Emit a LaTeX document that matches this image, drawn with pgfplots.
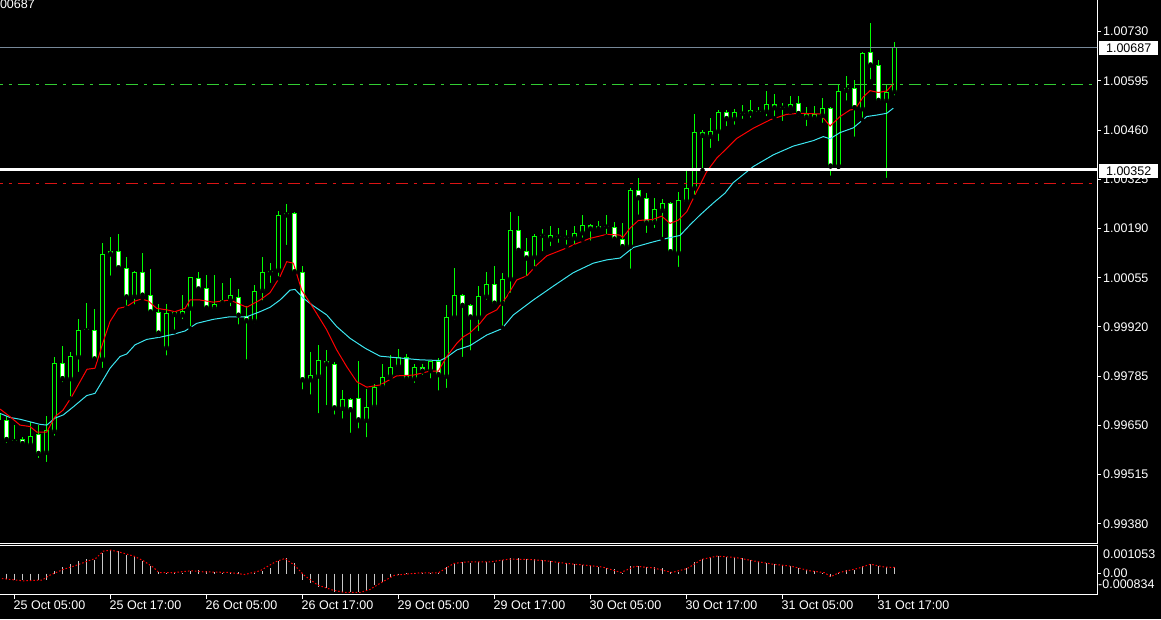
\documentclass[border=0pt]{standalone}
\usepackage{fontspec}
\setmainfont{Liberation Sans}
\usepackage{pgfplots}
\usepackage{pgfplotstable}
\pgfplotsset{compat=1.18}

\definecolor{cgreen}{RGB}{0,255,0}
\definecolor{maRed}{RGB}{255,0,0}
\definecolor{maCyan}{RGB}{60,230,240}
\definecolor{askGray}{RGB}{119,136,153}
\definecolor{lvlGreen}{RGB}{50,205,50}
\definecolor{lvlRed}{RGB}{220,20,20}
\definecolor{histGray}{RGB}{200,200,200}

% hourly candles, index 1 = 25 Oct 05:00
\pgfplotstableread{
i o h l c
-1 0.99665 0.99692 0.99657 0.99681
0 0.99665 0.99676 0.99596 0.99610
1 0.99608 0.99651 0.99596 0.99607
2 0.99613 0.99618 0.99596 0.99599
3 0.99596 0.99660 0.99594 0.99622
4 0.99627 0.99651 0.99555 0.99572
5 0.99575 0.99677 0.99544 0.99638
6 0.99633 0.99837 0.99616 0.99820
7 0.99820 0.99868 0.99763 0.99777
8 0.99777 0.99851 0.99724 0.99840
9 0.99837 0.99942 0.99791 0.99911
10 0.99911 0.99985 0.99907 0.99912
11 0.99911 0.99969 0.99829 0.99831
12 0.99831 1.00149 0.99802 1.00119
13 1.00119 1.00168 1.00055 1.00128
14 1.00128 1.00174 1.00079 1.00081
15 1.00081 1.00111 0.99973 1.00001
16 1.00003 1.00074 0.99976 1.00070
17 1.00070 1.00122 0.99999 1.00006
18 1.00007 1.00079 0.99958 0.99960
19 0.99960 0.99983 0.99898 0.99902
20 0.99862 0.99982 0.99836 0.99958
21 0.99960 0.99965 0.99907 0.99953
22 0.99952 1.00008 0.99936 0.99965
23 0.99971 1.00057 0.99916 1.00056
24 1.00053 1.00071 1.00016 1.00023
25 1.00026 1.00063 0.99967 0.99971
26 0.99970 1.00063 0.99962 0.99983
27 0.99985 1.00040 0.99976 0.99994
28 0.99992 1.00053 0.99971 1.00007
29 1.00003 1.00023 0.99921 0.99951
30 0.99950 0.99978 0.99825 0.99936
31 0.99936 1.00035 0.99925 1.00018
32 1.00019 1.00111 0.99987 1.00070
33 1.00067 1.00095 1.00035 1.00074
34 1.00075 1.00238 1.00053 1.00227
35 1.00226 1.00257 1.00139 1.00232
36 1.00232 1.00234 1.00067 1.00070
37 1.00070 1.00087 0.99743 0.99774
38 0.99774 0.99851 0.99729 0.99788
39 0.99784 0.99870 0.99678 0.99829
40 0.99826 0.99857 0.99700 0.99818
41 0.99818 0.99823 0.99674 0.99697
42 0.99696 0.99747 0.99663 0.99723
43 0.99723 0.99725 0.99624 0.99692
44 0.99724 0.99826 0.99636 0.99664
45 0.99663 0.99750 0.99612 0.99701
46 0.99701 0.99764 0.99695 0.99755
47 0.99755 0.99818 0.99752 0.99782
48 0.99784 0.99842 0.99780 0.99811
49 0.99811 0.99860 0.99802 0.99839
50 0.99839 0.99845 0.99770 0.99777
51 0.99777 0.99818 0.99761 0.99811
52 0.99811 0.99818 0.99783 0.99798
53 0.99799 0.99828 0.99773 0.99827
54 0.99828 0.99836 0.99740 0.99788
55 0.99784 0.99980 0.99747 0.99946
56 0.99946 1.00083 0.99934 1.00008
57 1.00008 1.00010 0.99832 0.99978
58 0.99979 0.99983 0.99850 0.99946
59 0.99946 1.00031 0.99903 1.00005
60 1.00003 1.00070 0.99989 1.00037
61 1.00037 1.00087 0.99980 0.99984
62 0.99984 1.00067 0.99918 1.00051
63 1.00051 1.00236 1.00008 1.00186
64 1.00186 1.00225 1.00125 1.00129
65 1.00129 1.00163 1.00053 1.00108
66 1.00111 1.00175 1.00081 1.00169
67 1.00170 1.00189 1.00122 1.00171
68 1.00160 1.00197 1.00136 1.00171
69 1.00168 1.00192 1.00145 1.00169
70 1.00165 1.00186 1.00140 1.00166
71 1.00163 1.00197 1.00140 1.00177
72 1.00177 1.00227 1.00159 1.00199
73 1.00199 1.00202 1.00151 1.00188
74 1.00188 1.00211 1.00180 1.00197
75 1.00195 1.00227 1.00168 1.00196
76 1.00193 1.00209 1.00158 1.00160
77 1.00160 1.00204 1.00137 1.00139
78 1.00140 1.00300 1.00074 1.00296
79 1.00296 1.00329 1.00222 1.00273
80 1.00273 1.00287 1.00172 1.00204
81 1.00206 1.00275 1.00186 1.00243
82 1.00239 1.00271 1.00161 1.00259
83 1.00261 1.00263 1.00116 1.00125
84 1.00122 1.00291 1.00079 1.00268
85 1.00264 1.00355 1.00259 1.00300
86 1.00300 1.00504 1.00277 1.00454
87 1.00454 1.00460 1.00350 1.00444
88 1.00442 1.00492 1.00405 1.00457
89 1.00456 1.00515 1.00424 1.00509
90 1.00509 1.00515 1.00465 1.00490
91 1.00490 1.00517 1.00469 1.00509
92 1.00505 1.00529 1.00485 1.00506
93 1.00505 1.00542 1.00488 1.00514
94 1.00509 1.00522 1.00499 1.00513
95 1.00510 1.00567 1.00492 1.00531
96 1.00531 1.00559 1.00492 1.00520
97 1.00521 1.00533 1.00479 1.00522
98 1.00520 1.00552 1.00510 1.00531
99 1.00533 1.00552 1.00492 1.00504
100 1.00503 1.00523 1.00465 1.00494
101 1.00492 1.00527 1.00481 1.00503
102 1.00499 1.00549 1.00474 1.00521
103 1.00521 1.00522 1.00329 1.00360
104 1.00360 1.00585 1.00359 1.00568
105 1.00568 1.00608 1.00535 1.00574
106 1.00574 1.00597 1.00436 1.00520
107 1.00517 1.00675 1.00488 1.00670
108 1.00673 1.00753 1.00593 1.00637
109 1.00637 1.00652 1.00533 1.00540
110 1.00540 1.00584 1.00323 1.00565
111 1.00564 1.00702 1.00549 1.00687
}\candles

% oscillator histogram
\pgfplotstableread{
i m
-1 -0.00022
0 -0.00022
1 -0.00024
2 -0.00025
3 -0.00026
4 -0.00026
5 -0.00024
6 0.00011
7 0.00024
8 0.00037
9 0.00050
10 0.00057
11 0.00053
12 0.00082
13 0.00093
14 0.00090
15 0.00073
16 0.00069
17 0.00050
18 0.00029
19 0.00007
20 0.00003
21 0.00003
22 0.00004
23 0.00011
24 0.00013
25 0.00011
26 0.00007
27 0.00004
28 0.00004
29 0.00005
30 0.00000
31 0.00003
32 0.00011
33 0.00020
34 0.00050
35 0.00060
36 0.00040
37 -0.00024
38 -0.00037
39 -0.00053
40 -0.00057
41 -0.00073
42 -0.00075
43 -0.00075
44 -0.00075
45 -0.00064
46 -0.00046
47 -0.00033
48 -0.00013
49 -0.00003
50 0.00001
51 0.00002
52 0.00001
53 0.00002
54 0.00002
55 0.00024
56 0.00042
57 0.00046
58 0.00042
59 0.00046
60 0.00046
61 0.00040
62 0.00053
63 0.00060
64 0.00060
65 0.00056
66 0.00056
67 0.00053
68 0.00050
69 0.00042
70 0.00040
71 0.00037
72 0.00033
73 0.00030
74 0.00024
75 0.00020
76 0.00016
77 0.00004
78 0.00029
79 0.00029
80 0.00024
81 0.00024
82 0.00020
83 0.00007
84 0.00007
85 0.00020
86 0.00046
87 0.00056
88 0.00064
89 0.00069
90 0.00066
91 0.00064
92 0.00060
93 0.00053
94 0.00046
95 0.00040
96 0.00037
97 0.00033
98 0.00029
99 0.00020
100 0.00013
101 0.00011
102 0.00004
103 -0.00013
104 0.00004
105 0.00013
106 0.00013
107 0.00029
108 0.00037
109 0.00029
110 0.00024
111 0.00026
}\macd

\begin{document}
\begin{tikzpicture}
\fill[black] (0,0) rectangle (1161pt,619pt);
\useasboundingbox (0,0) rectangle (1161pt,619pt);

\pgfplotsset{
  mtaxis/.style={
    scale only axis,
    anchor=south west,
    width=1098pt,
    xmin=-0.9375, xmax=136.3125,
    axis line style={white, line width=1pt},
    tick style={white, line width=1pt},
    tick align=outside,
    major tick length=4pt,
    scaled y ticks=false,
    scaled x ticks=false,
    ytick pos=right,
    yticklabel pos=right,
    ticklabel style={text=white, font=\fontsize{12.5}{14}\selectfont},
    /pgf/number format/assume math mode=true,
  },
  candle/.style={only marks, mark=none, forget plot,
    error bars/.cd, y dir=plus, y explicit, error mark=none},
}

\begin{axis}[mtaxis,
  at={(-1pt,76pt)},
  height=544pt,
  ymin=0.993277, ymax=1.008193,
  xtick=\empty,
  ytick={0.99380,0.99515,0.99650,0.99785,0.99920,1.00055,1.00190,1.00325,1.00460,1.00595,1.00730},
  yticklabels={0.99380,0.99515,0.99650,0.99785,0.99920,1.00055,1.00190,1.00325,1.00460,1.00595,1.00730},
  yticklabel style={anchor=west, inner sep=0pt, xshift=2pt},
]
% wicks: low to high
\addplot[candle, error bar style={draw=cgreen, line width=1pt}]
  table[x=i, y=l, y error plus expr={\thisrow{h}-\thisrow{l}}] {\candles};
% bodies: green outline, at least one pixel tall
\addplot[candle, error bar style={draw=cgreen, line width=5pt}]
  table[x=i, y expr={min(\thisrow{o},\thisrow{c})},
        y error plus expr={max(abs(\thisrow{o}-\thisrow{c}),0.0000274)}] {\candles};
% bearish bodies white (rows that do not apply are moved off the axis)
\addplot[candle, error bar style={draw=white, line width=3pt}]
  table[x expr={ifthenelse(\thisrow{o}-\thisrow{c}>0.00005,\thisrow{i},-100)},
        y expr={\thisrow{c}+0.0000274},
        y error plus expr={abs(\thisrow{o}-\thisrow{c})-0.0000548}] {\candles};
% bullish bodies hollow
\addplot[candle, error bar style={draw=black, line width=3pt}]
  table[x expr={ifthenelse(\thisrow{c}-\thisrow{o}>0.00005,\thisrow{i},-100)},
        y expr={\thisrow{o}+0.0000274},
        y error plus expr={abs(\thisrow{o}-\thisrow{c})-0.0000548}] {\candles};

% slow average
\addplot[maCyan, line width=1pt, mark=none] coordinates {
(-0.81,0.99683) (0.44,0.99672) (1.69,0.99667) (2.94,0.99660) (4.19,0.99653)
(5.03,0.99651) (6.06,0.99670) (7.1,0.99679) (8.35,0.99701) (10.03,0.99732)
(11.06,0.99738) (11.69,0.99761) (12.94,0.99807) (14.19,0.99839) (15.03,0.99846)
(16.06,0.99871) (17.53,0.99886) (19.19,0.99892) (20.85,0.99900) (22.31,0.99909)
(23.78,0.99930) (25.85,0.99941) (27.94,0.99948) (30.03,0.99948) (31.69,0.99962)
(32.94,0.99974) (34.19,0.99994) (35.44,1.00021) (36.06,1.00023) (37.1,0.99999)
(38.35,0.99978) (40.03,0.99953) (41.28,0.99921) (42.94,0.99889) (44.81,0.99862)
(46.69,0.99840) (49.6,0.99834) (51.69,0.99830) (54.19,0.99828) (55.03,0.99837)
(56.28,0.99857) (57.94,0.99869) (60.03,0.99898) (61.9,0.99915) (63.35,0.99953)
(65.85,0.99994) (68.35,1.00032) (70.85,1.00069) (73.35,1.00095) (75.03,1.00104)
(76.69,1.00109) (78.35,1.00138) (80.44,1.00151) (82.53,1.00163) (84.19,1.00171)
(85.44,1.00200) (86.69,1.00227) (88.35,1.00260) (89.81,1.00287) (90.85,1.00316)
(93.35,1.00360) (95.85,1.00392) (98.35,1.00416) (100.85,1.00431) (102.1,1.00442)
(102.94,1.00436) (104.19,1.00453) (105.85,1.00466) (107.53,1.00497) (108.78,1.00501)
(110.03,1.00506) (110.85,1.00520)
};
% fast average
\addplot[maRed, line width=1pt, mark=none] coordinates {
(-0.81,0.99695) (0.44,0.99674) (1.69,0.99651) (2.94,0.99647) (3.78,0.99632)
(5.03,0.99632) (6.06,0.99674) (7.06,0.99692) (8.15,0.99729) (9.19,0.99770)
(10.06,0.99804) (11.06,0.99807) (12.1,0.99880) (12.94,0.99935) (13.98,0.99971)
(15.03,0.99976) (16.06,0.99991) (16.9,0.99997) (17.73,0.99991) (18.78,0.99971)
(20.03,0.99967) (21.06,0.99962) (22.31,0.99971) (22.94,0.99994) (24.19,0.99994)
(25.85,0.99988) (27.94,0.99994) (30.03,0.99974) (31.69,0.99994) (32.94,1.00014)
(34.19,1.00058) (35.03,1.00099) (35.85,1.00095) (36.9,1.00021) (38.35,0.99972)
(40.03,0.99912) (41.28,0.99857) (42.53,0.99811) (43.78,0.99770) (45.03,0.99755)
(46.69,0.99761) (48.78,0.99786) (50.85,0.99788) (52.94,0.99799) (53.98,0.99799)
(55.03,0.99839) (56.28,0.99875) (57.1,0.99893) (57.94,0.99904) (59.19,0.99930)
(60.03,0.99953) (61.28,0.99967) (62.53,1.00003) (63.78,1.00049) (65.03,1.00060)
(66.28,1.00090) (67.53,1.00115) (69.6,1.00133) (71.28,1.00149) (72.94,1.00163)
(75.03,1.00174) (76.69,1.00172) (77.03,1.00165) (77.94,1.00191) (78.98,1.00212)
(80.85,1.00215) (81.9,1.00224) (82.94,1.00204) (83.98,1.00213) (85.03,1.00236)
(86.28,1.00292) (87.53,1.00346) (88.78,1.00383) (89.81,1.00405) (91.28,1.00437)
(93.35,1.00465) (95.44,1.00488) (97.53,1.00503) (99.19,1.00506) (101.69,1.00504)
(102.94,1.00471) (104.19,1.00497) (105.44,1.00515) (106.06,1.00517) (107.1,1.00551)
(107.94,1.00568) (108.98,1.00563) (110.03,1.00567) (110.85,1.00588)
};

% horizontal levels
\addplot[askGray, line width=1pt, mark=none] coordinates {(-2,1.00687) (140,1.00687)};
\addplot[lvlGreen, line width=1pt, mark=none, dash pattern=on 12pt off 6pt on 3pt off 6pt] coordinates {(-2,1.00585) (140,1.00585)};
\addplot[lvlRed, line width=1pt, mark=none, dash pattern=on 12pt off 6pt on 3pt off 6pt] coordinates {(-2,1.00314) (140,1.00314)};
\addplot[white, line width=3pt, mark=none] coordinates {(-2,1.00352) (140,1.00352)};
\end{axis}

\begin{axis}[mtaxis,
  at={(-1pt,24.5pt)},
  height=49.5pt,
  ymin=-0.000834, ymax=0.001133,
  xtick={1,13,25,37,49,61,73,85,97,109},
  xticklabels={25 Oct 05:00,25 Oct 17:00,26 Oct 05:00,26 Oct 17:00,29 Oct 05:00,29 Oct 17:00,30 Oct 05:00,30 Oct 17:00,31 Oct 05:00,31 Oct 17:00},
  xtick pos=bottom,
  xticklabel style={anchor=north west, inner sep=0pt, xshift=-1pt, yshift=-2pt},
  ytick={0}, yticklabels={},
]
\addplot[ycomb, histGray, line width=1pt, mark=none] table[x=i, y=m] {\macd};
\addplot[maRed, line width=1pt, mark=none, dash pattern=on 1.5pt off 2pt] coordinates {
(-0.57,-0.00020) (2.06,-0.00029) (4.45,-0.00026) (5.4,-0.00007) (7.08,0.00016)
(8.76,0.00033) (10.19,0.00050) (11.15,0.00060) (12.1,0.00089) (13.06,0.00093)
(14.5,0.00082) (15.93,0.00069) (17.13,0.00050) (18.3,0.00026) (19.04,0.00004)
(20.7,0.00003) (23.1,0.00011) (24.5,0.00007) (27.9,0.00004) (29.8,-0.00004)
(31.7,0.00011) (33.6,0.00046) (34.8,0.00060) (36.0,0.00033) (37.2,-0.00007)
(38.9,-0.00046) (40.8,-0.00066) (42.2,-0.00075) (44.2,-0.00075) (45.4,-0.00064)
(47.0,-0.00033) (48.5,-0.00007) (51.8,0.00003) (54.0,0.00003) (54.9,0.00020)
(55.9,0.00040) (57.5,0.00046) (60.4,0.00046) (62.8,0.00057) (65.2,0.00056)
(67.6,0.00050) (70.0,0.00040) (72.4,0.00033) (74.5,0.00026) (76.8,0.00004)
(78.6,0.00029) (80.9,0.00022) (83.2,0.00004) (85.1,0.00020) (86.9,0.00056)
(88.8,0.00069) (91.1,0.00064) (93.4,0.00050) (95.8,0.00037) (98.1,0.00029)
(100.4,0.00011) (102.3,0.00003) (103.0,-0.00013) (104.1,0.00004) (106.4,0.00020)
(108.0,0.00037) (109.7,0.00026) (111.0,0.00024)
};
\end{axis}

% frame line on top of the lower panel
\draw[white, line width=1pt] (0pt,74pt) -- (1097pt,74pt);

% oscillator scale labels
\begin{scope}[every node/.style={text=white, inner sep=0pt, anchor=west, font=\fontsize{12.5}{14}\selectfont}]
\node at (1103pt,65pt) {0.001053};
\node at (1103pt,46pt) {0.00};
\node at (1098pt,34.5pt) {-0.000834};
\node[anchor=east] at (35pt,614.5pt) {1.00687};
\end{scope}

% price labels of the horizontal lines
\begin{scope}[every node/.style={fill=white, text=black, inner sep=0pt, anchor=north west,
    minimum width=59pt, minimum height=14pt, font=\fontsize{12.5}{14}\selectfont}]
\node at (1099pt,578pt) {1.00687};
\node at (1099pt,455pt) {1.00352};
\end{scope}
\end{tikzpicture}
\end{document}
